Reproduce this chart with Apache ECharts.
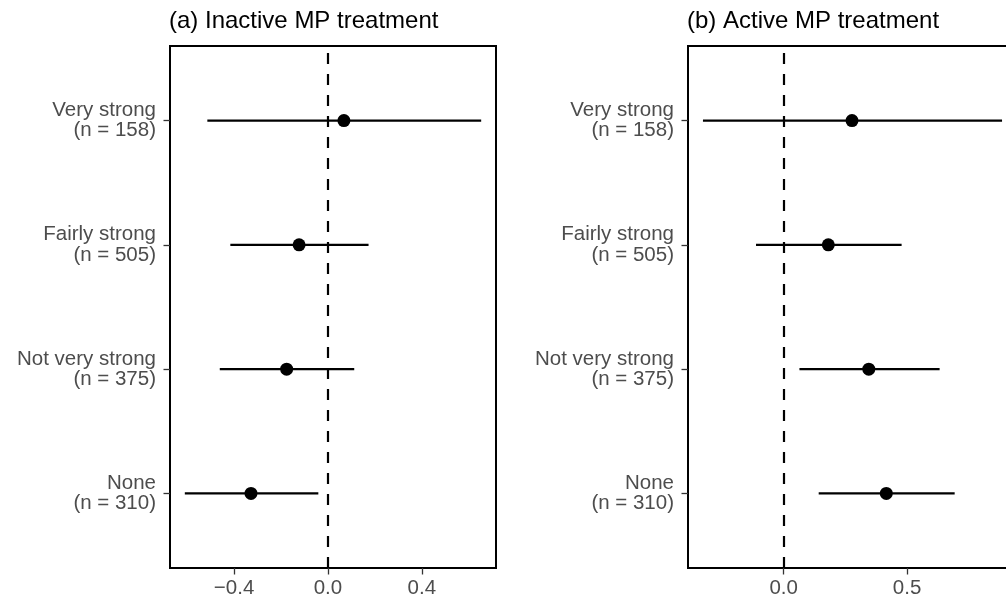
<!DOCTYPE html>
<html>
<head>
<meta charset="utf-8">
<script src="https://cdn.jsdelivr.net/npm/echarts@6/dist/echarts.min.js"></script>
<style>
html,body{margin:0;padding:0;background:#fff;overflow:hidden;width:1006px;height:604px;}
#main{width:1020px;height:604px;}
</style>
</head>
<body>
<div id="main"></div>
<script>
// ---- data ----
var categories = ['Very strong', 'Fairly strong', 'Not very strong', 'None'];
var counts = [158, 505, 375, 310];
var inactiveEst = [0.068, -0.123, -0.176, -0.328];
var inactiveLo  = [-0.514, -0.416, -0.461, -0.610];
var inactiveHi  = [0.653, 0.173, 0.112, -0.041];
var activeEst = [0.277, 0.181, 0.345, 0.416];
var activeLo  = [-0.327, -0.112, 0.064, 0.142];
var activeHi  = [0.885, 0.478, 0.632, 0.693];
var inactiveTicks = [-0.4, 0.0, 0.4];
var activeTicks = [0.0, 0.5];
var titles = ['(a) Inactive MP treatment', '(b) Active MP treatment'];

// ---- helpers ----
var FONT = "'Liberation Sans', Arial, sans-serif";
var n = categories.length;
function yPos(i) { return n - i; } // first category at top
function labelFor(v) {
  var i = n - Math.round(v);
  if (i < 0 || i >= n) return '';
  return categories[i] + '\n(n = ' + counts[i] + ')';
}
function expand(lo, hi) {
  var mn = Math.min.apply(null, lo), mx = Math.max.apply(null, hi);
  var r = mx - mn;
  return [mn - 0.05 * r, mx + 0.05 * r];
}
function fmtX(v) {
  var s = Math.abs(v).toFixed(1);
  return (v < -1e-9 ? '\u2212' : '') + s;
}
var yTicks = categories.map(function (c, i) { return yPos(i); });

var grids = [
  {left: 170, top: 46, width: 326, height: 522},
  {left: 688, top: 46, width: 329, height: 522}
];
var sets = [
  {est: inactiveEst, lo: inactiveLo, hi: inactiveHi, ticks: inactiveTicks},
  {est: activeEst, lo: activeLo, hi: activeHi, ticks: activeTicks}
];

var option = {
  animation: false,
  backgroundColor: '#fff',
  title: titles.map(function (t, k) {
    return {
      text: t, left: grids[k].left - 6, top: 4,
      textStyle: {fontFamily: FONT, fontSize: 24, fontWeight: 'normal', color: '#000'}
    };
  }),
  grid: grids.map(function (g) {
    return Object.assign({show: true, borderColor: '#000', borderWidth: 2, backgroundColor: 'transparent'}, g);
  }),
  xAxis: sets.map(function (s, k) {
    var r = expand(s.lo, s.hi);
    return {
      type: 'value', gridIndex: k, min: r[0], max: r[1],
      splitLine: {show: false},
      axisLine: {show: false, onZero: false},
      axisTick: {show: true, customValues: s.ticks, length: 6.5, lineStyle: {color: '#333', width: 1.3}},
      axisLabel: {customValues: s.ticks, formatter: fmtX, color: '#4D4D4D', fontFamily: FONT, fontSize: 20.5, margin: 10}
    };
  }),
  yAxis: sets.map(function (s, k) {
    return {
      type: 'value', gridIndex: k, min: 0.4, max: n + 0.6,
      splitLine: {show: false},
      axisLine: {show: false, onZero: false},
      axisTick: {show: true, customValues: yTicks, length: 6.5, lineStyle: {color: '#333', width: 1.3}},
      axisLabel: {customValues: yTicks, formatter: labelFor, color: '#4D4D4D', fontFamily: FONT, fontSize: 20.5,
        lineHeight: 20.5, align: 'right', margin: 14}
    };
  }),
  series: []
};

sets.forEach(function (s, k) {
  option.series.push({
    type: 'custom', xAxisIndex: k, yAxisIndex: k,
    data: s.est.map(function (e, i) { return [yPos(i), s.lo[i], s.hi[i]]; }),
    encode: {x: [1, 2], y: 0},
    renderItem: function (params, api) {
      var y = api.value(0);
      var p1 = api.coord([api.value(1), y]);
      var p2 = api.coord([api.value(2), y]);
      return {type: 'line', shape: {x1: p1[0], y1: p1[1], x2: p2[0], y2: p2[1]},
        style: {stroke: '#000', lineWidth: 2.2}};
    },
    z: 3
  });
  option.series.push({
    type: 'scatter', xAxisIndex: k, yAxisIndex: k,
    data: s.est.map(function (e, i) { return [e, yPos(i)]; }),
    symbol: 'circle', symbolSize: 13,
    itemStyle: {color: '#000', opacity: 1},
    emphasis: {disabled: true},
    z: 4,
    markLine: {
      silent: true, symbol: 'none', label: {show: false},
      lineStyle: {color: '#000', type: [11, 10], width: 2.2},
      data: [{xAxis: 0}],
      z: 2
    }
  });
});

var chart = echarts.init(document.getElementById('main'), null, {renderer: 'canvas'});
chart.setOption(option);
</script>
</body>
</html>
